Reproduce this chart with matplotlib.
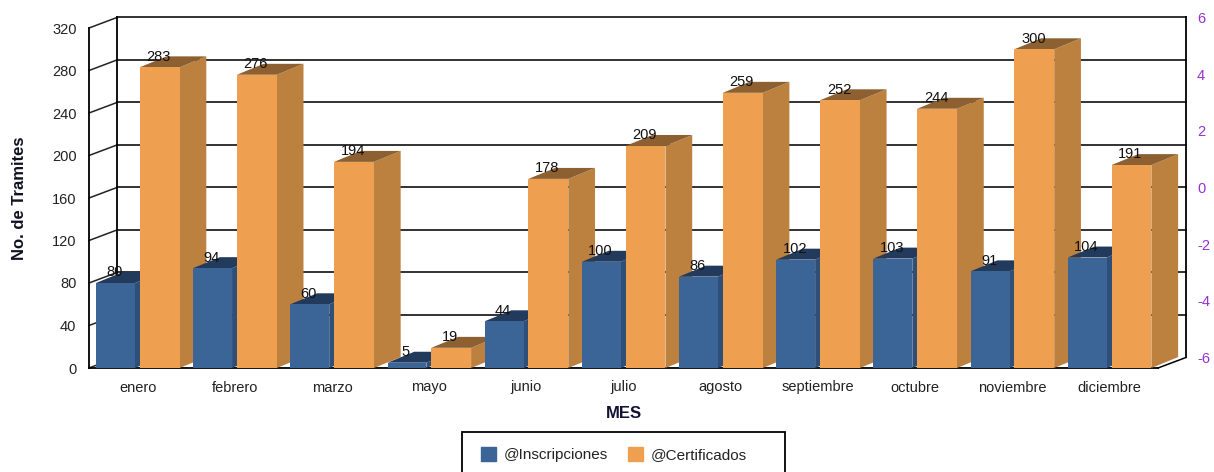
#!/usr/bin/env python3
""" Tramites por mes, barras con efecto 3D """

import numpy as np
import matplotlib
matplotlib.use('Agg')
import matplotlib.pyplot as plt
from matplotlib.patches import Patch, Rectangle

plt.rcParams['font.family'] = ['Liberation Sans', 'DejaVu Sans']
plt.rcParams['axes.unicode_minus'] = False

meses = ['enero', 'febrero', 'marzo', 'mayo', 'junio', 'julio', 'agosto',
         'septiembre', 'octubre', 'noviembre', 'diciembre']
inscripciones = [80, 94, 60, 5, 44, 100, 86, 102, 103, 91, 104]
certificados = [283, 276, 194, 19, 178, 209, 259, 252, 244, 300, 191]
left_ticks = [0, 40, 80, 120, 160, 200, 240, 280, 320]
right_ticks = [-6, -4, -2, 0, 2, 4, 6]

W, H = 1214, 472
# colores: frente, lado, tapa
AZUL = ('#3A6596', '#2E4F78', '#223A5C')
NARANJA = ('#EEA050', '#BC803F', '#8C6030')
MORADO = '#9A30D0'

# profundidad de la pared y de las barras, en unidades de datos
wall_dx, wall_dy = 0.288, 9.9
bar_dx, bar_dy = 0.275, 10.3


def bar3d(ax, x, w, v, colors, z):
    ax.fill([x + w, x + w + bar_dx, x + w + bar_dx, x + w],
            [0, bar_dy, v + bar_dy, v], color=colors[1], lw=0, zorder=z, clip_on=False)
    ax.fill([x, x + bar_dx, x + w + bar_dx, x + w],
            [v, v + bar_dy, v + bar_dy, v], color=colors[2], lw=0, zorder=z, clip_on=False)
    ax.bar(x, v, w, align='edge', color=colors[0], lw=0, zorder=z)


def main():
    fig = plt.figure(figsize=(W / 100, H / 100), dpi=100)
    ax = fig.add_axes([89 / W, 1 - 368 / H, 1069 / W, 340 / H])
    ax.set_xlim(0, len(meses))
    ax.set_ylim(0, 320)
    ax.patch.set_alpha(0)

    # pared del fondo
    for t in left_ticks[1:]:
        ax.plot([wall_dx, len(meses) + wall_dx], [t + wall_dy, t + wall_dy],
                color='#222222', lw=1.3, zorder=1, clip_on=False)
    for t in left_ticks:
        ax.plot([0, wall_dx], [t, t + wall_dy], color='#222222', lw=1.1, zorder=1, clip_on=False)
    ax.plot([wall_dx, wall_dx], [wall_dy, 320 + wall_dy], color='black', lw=1.3, zorder=1, clip_on=False)
    xr = len(meses) + wall_dx
    ax.plot([xr, xr], [wall_dy, 320 + wall_dy], color='black', lw=1.3, zorder=1, clip_on=False)
    ax.plot([len(meses), xr], [0, wall_dy], color='black', lw=1.1, zorder=1, clip_on=False)

    # barras de izquierda a derecha, cada una tapa a la anterior
    for i in range(len(meses)):
        bar3d(ax, i + 0.072, 0.40, inscripciones[i], AZUL, 3 + i * 2)
        bar3d(ax, i + 0.522, 0.41, certificados[i], NARANJA, 4 + i * 2)

    for i in range(len(meses)):
        ax.text(i + 0.262, inscripciones[i] + 10, str(inscripciones[i]), ha='center', va='center',
                fontsize=10.5, color='#111111', zorder=40, clip_on=False)
        ax.text(i + 0.717, certificados[i] + 10, str(certificados[i]), ha='center', va='center',
                fontsize=10.5, color='#111111', zorder=40, clip_on=False)

    ax.spines['top'].set_visible(False)
    ax.spines['right'].set_visible(False)
    ax.spines['left'].set_linewidth(1.3)
    ax.spines['bottom'].set_linewidth(1.3)
    ax.spines['left'].set_zorder(2)
    ax.spines['bottom'].set_zorder(2)

    ax.set_yticks(left_ticks)
    ax.set_xticks(np.arange(len(meses)) + 0.5)
    ax.set_xticklabels(meses)
    ax.tick_params(axis='y', length=0, pad=9, labelsize=10.5, labelcolor='#222222')
    ax.tick_params(axis='x', length=0, pad=9, labelsize=10.5, labelcolor='#222222')
    ax.set_xlabel('MES', fontweight='bold', fontsize=12, labelpad=8, color='#111133')
    ax.set_ylabel('No. de Tramites', fontweight='bold', fontsize=12, labelpad=18, color='#111122')

    # eje derecho, sobre la pared del fondo
    ax2 = fig.add_axes([117 / W, 1 - 357.5 / H, 1069 / W, 340 / H], frameon=False)
    ax2.set_ylim(-6, 6)
    ax2.set_xticks([])
    ax2.yaxis.tick_right()
    ax2.set_yticks(right_ticks)
    ax2.tick_params(axis='y', length=0, pad=8, labelsize=10.5, labelcolor=MORADO)
    ax2.set_zorder(-1)

    # leyenda, el marco se sale por abajo de la imagen
    fig.add_artist(Rectangle((462 / W, 1 - 500 / H), 323 / W, 68 / H, transform=fig.transFigure,
                             fill=False, edgecolor='black', lw=1.3))
    handles = [Patch(color=AZUL[0], label='@Inscripciones'), Patch(color=NARANJA[0], label='@Certificados')]
    fig.legend(handles=handles, ncols=2, loc='upper left', bbox_to_anchor=(481 / W, 1 - 447 / H),
               frameon=False, fontsize=11, borderpad=0, borderaxespad=0, handlelength=1.0,
               handleheight=1.0, handletextpad=0.5, columnspacing=1.3, labelcolor='#222222')

    plt.savefig('out.png', dpi=100)


main()
